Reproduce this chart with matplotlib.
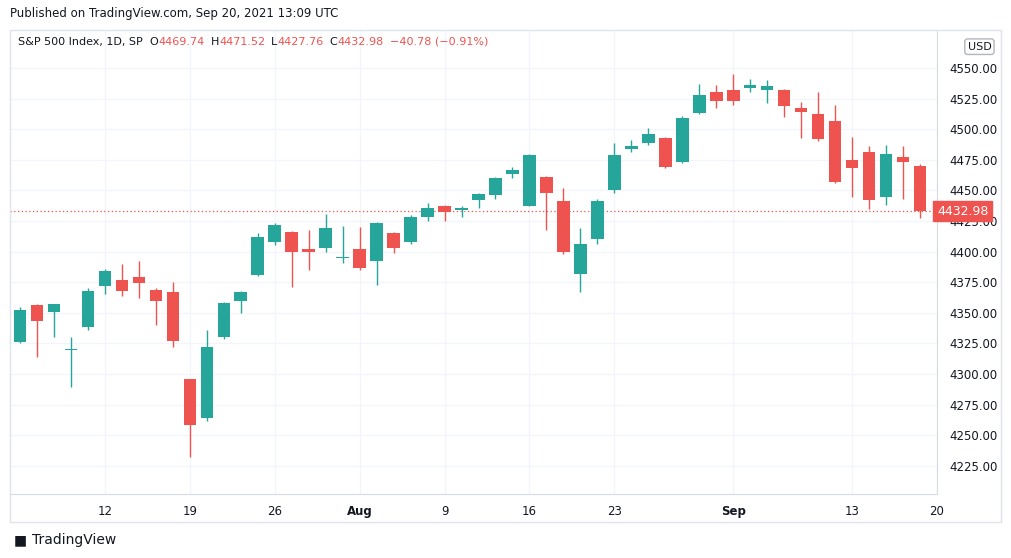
import matplotlib.pyplot as plt
from matplotlib.patches import Rectangle

# S&P 500 daily candles, Jul 2 .. Sep 17 2021
opens = [4326, 4356, 4351, 4320, 4338, 4372, 4377, 4379, 4369, 4367,
         4296, 4264, 4330, 4360, 4381, 4408, 4416, 4402, 4403, 4395,
         4402, 4392, 4415, 4408, 4428, 4437, 4434, 4442, 4446, 4463,
         4437, 4461, 4441, 4382, 4410, 4450, 4484, 4489, 4493, 4473,
         4513, 4530, 4532, 4534, 4532, 4532, 4517, 4512, 4507, 4475,
         4481, 4445, 4477, 4469.74]
closes = [4352, 4343, 4357, 4320, 4368, 4384, 4368, 4374, 4360, 4327,
          4258, 4322, 4358, 4367, 4412, 4422, 4400, 4400, 4419, 4395,
          4387, 4423, 4403, 4428, 4436, 4432, 4436, 4447, 4460, 4467,
          4479, 4448, 4400, 4406, 4441, 4479, 4486, 4496, 4469, 4509,
          4528, 4523, 4523, 4536, 4535, 4519, 4514, 4492, 4457, 4468,
          4442, 4480, 4473, 4432.98]
highs = [4355, 4357, 4357, 4330, 4370, 4386, 4390, 4392, 4370, 4375,
         4296, 4336, 4359, 4368, 4415, 4423, 4417, 4418, 4431, 4421,
         4420, 4424, 4416, 4430, 4440, 4438, 4437, 4448, 4461, 4469,
         4480, 4462, 4452, 4419, 4443, 4489, 4491, 4501, 4494, 4511,
         4537, 4536, 4545, 4541, 4540, 4533, 4522, 4530, 4520, 4494,
         4486, 4487, 4486, 4471.52]
lows = [4325, 4314, 4330, 4289, 4336, 4365, 4364, 4362, 4340, 4322,
        4232, 4262, 4329, 4350, 4380, 4405, 4371, 4385, 4400, 4391,
        4385, 4373, 4399, 4406, 4425, 4425, 4428, 4436, 4443, 4460,
        4437, 4418, 4398, 4367, 4406, 4448, 4481, 4487, 4468, 4472,
        4512, 4517, 4520, 4530, 4521, 4510, 4493, 4490, 4456, 4445,
        4435, 4438, 4443, 4427.76]
tick_pos = [6, 11, 16, 21, 26, 31, 36, 43, 50, 55]
tick_labels = ["12", "19", "26", "Aug", "9", "16", "23", "Sep", "13", "20"]
price_ticks = [4225, 4250, 4275, 4300, 4325, 4350, 4375, 4400, 4425,
               4450, 4475, 4500, 4525, 4550]

green, red = "#26a69a", "#ef5350"
W, H = 1012, 558
fig = plt.figure(figsize=(W / 100, H / 100), dpi=100)
ax = fig.add_axes([10 / W, (H - 494) / H, 927 / W, 464 / H])

for k in range(len(opens)):
    i = k + 1
    o, c, hi, lo = opens[k], closes[k], highs[k], lows[k]
    col = green if c >= o else red
    ax.vlines(i, lo, hi, color=col, lw=1, zorder=2)
    b = max(abs(c - o), 0.6)
    ax.add_patch(Rectangle((i - 0.37, min(o, c)), 0.74, b, color=col, lw=0, zorder=3))

last = closes[-1]
ax.axhline(last, color=red, lw=0.9, ls=(0, (1, 2)), zorder=1)

ax.set_xlim(0.41, 54.8)
ax.set_ylim(4202, 4581)
ax.set_xticks(tick_pos)
ax.set_xticklabels(tick_labels, color="#131722", fontsize=8.5)
for lab in ax.get_xticklabels():
    if lab.get_text() in ("Aug", "Sep"):
        lab.set_fontweight("bold")
ax.set_yticks(price_ticks)
ax.set_yticklabels([f"{p:.2f}" for p in price_ticks], color="#131722", fontsize=8.5)
ax.yaxis.tick_right()
ax.tick_params(length=0, pad=9)
ax.tick_params(axis="x", pad=8)
ax.grid(color="#f3f5fa", lw=1)
ax.set_axisbelow(True)
for s in ["top", "left"]:
    ax.spines[s].set_visible(False)
ax.spines["right"].set_color("#d6dae3")
ax.spines["bottom"].set_color("#d6dae3")

ax.text(1.0, last, f"{last:.2f}", transform=ax.get_yaxis_transform(),
        ha="left", va="center", color="white", fontsize=9,
        bbox=dict(boxstyle="square,pad=0.3", fc=red, ec=red),
        zorder=5, clip_on=False)
ax.annotate("USD", xy=(1.0, 1.0), xycoords="axes fraction", xytext=(22, -12),
            textcoords="offset points", ha="left", va="center", fontsize=8,
            color="#131722", bbox=dict(boxstyle="round,pad=0.25", fc="white", ec="#b2b5be"))

# outer frame
fig.add_artist(Rectangle((10 / W, (H - 522) / H), 991 / W, 492 / H,
                         transform=fig.transFigure, fill=False, ec="#e0e3eb", lw=1))

fig.text(10 / W, 1 - 14 / H, "Published on TradingView.com, Sep 20, 2021 13:09 UTC",
         fontsize=8.5, color="#131722", va="center")
x0 = 18 / W
y0 = 1 - 42 / H
# (text, colour, gap in px after it)
parts = [("S&P 500 Index, 1D, SP", "#131722", 7), ("O", "#131722", 0), ("4469.74", red, 6),
         ("H", "#131722", 0), ("4471.52", red, 6), ("L", "#131722", 0), ("4427.76", red, 6),
         ("C", "#131722", 0), ("4432.98", red, 6), ("\u221240.78 (\u22120.91%)", red, 0)]
r = fig.canvas.get_renderer()
xx = x0
for txt, col, gap in parts:
    t = fig.text(xx, y0, txt, fontsize=8, color=col, va="center")
    bb = t.get_window_extent(renderer=r)
    xx += (bb.width + gap) / W
fig.text(32 / W, 1 - 540 / H, "TradingView", fontsize=10, color="#131722", va="center")
fig.text(14 / W, 1 - 540 / H, "\u25a0", fontsize=10, color="#131722", va="center")

fig.savefig("out.png", dpi=100)
